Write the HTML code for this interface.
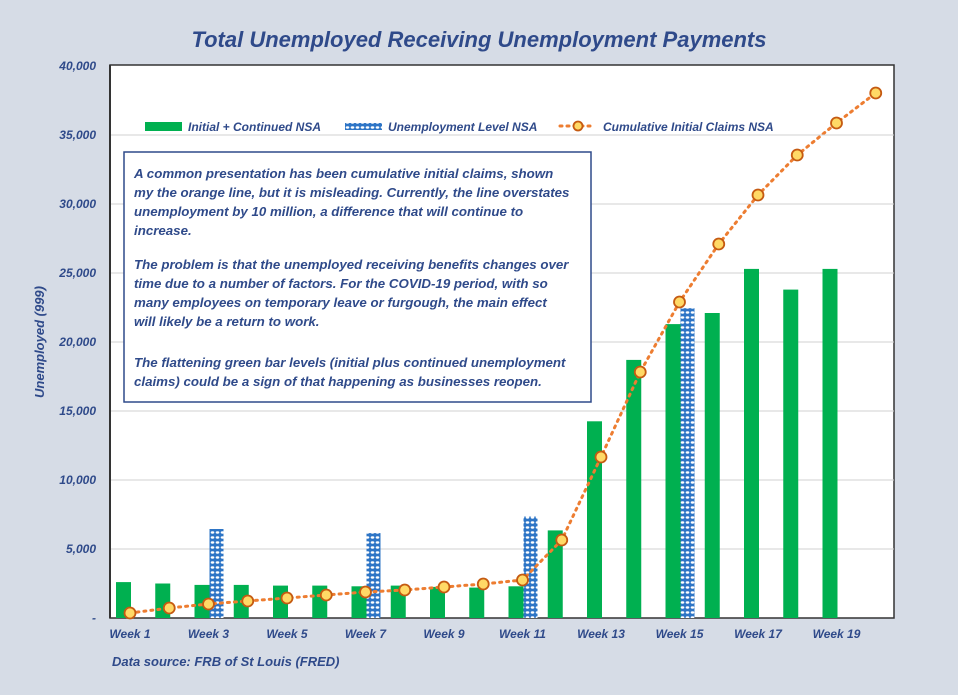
<!DOCTYPE html>
<html><head><meta charset="utf-8"><style>
body{margin:0;background:#d6dce6;}
svg{display:block;font-family:"Liberation Sans",sans-serif;}
.t{font-style:italic;font-weight:bold;fill:#2f4a8a;}
</style></head><body>
<svg width="958" height="695" viewBox="0 0 958 695">
<defs>
<pattern id="dp" width="5" height="5" patternUnits="userSpaceOnUse">
<rect width="5" height="5" fill="#2e75c6"/>
<ellipse cx="2.5" cy="2.5" rx="1.8" ry="1.2" fill="#fff"/>
</pattern>
</defs>
<rect width="958" height="695" fill="#d6dce6"/>
<text x="479" y="47" text-anchor="middle" class="t" font-size="22" fill="#2f4a8a">Total Unemployed Receiving Unemployment Payments</text>
<rect x="110" y="65" width="784" height="553" fill="#fff" stroke="#333" stroke-width="1.5"/>
<g stroke="#d0d0d0" stroke-width="1">
<line x1="110" x2="894" y1="135" y2="135"/><line x1="110" x2="894" y1="204" y2="204"/>
<line x1="110" x2="894" y1="273" y2="273"/><line x1="110" x2="894" y1="342" y2="342"/>
<line x1="110" x2="894" y1="411" y2="411"/><line x1="110" x2="894" y1="480" y2="480"/>
<line x1="110" x2="894" y1="549" y2="549"/>
</g>
<line x1="110" y1="65" x2="110" y2="618" stroke="#333" stroke-width="2"/>
<g class="t" font-size="12" text-anchor="end">
<text x="96" y="70">40,000</text><text x="96" y="139">35,000</text><text x="96" y="208">30,000</text>
<text x="96" y="277">25,000</text><text x="96" y="346">20,000</text><text x="96" y="415">15,000</text>
<text x="96" y="484">10,000</text><text x="96" y="553">5,000</text><text x="96" y="622">-</text>
</g>
<text class="t" font-size="13" transform="translate(44,342) rotate(-90)" text-anchor="middle">Unemployed (999)</text>
<g fill="#00b050">
<rect x="116" y="582.1" width="15" height="35.9"/><rect x="155.25" y="583.5" width="15" height="34.5"/>
<rect x="194.5" y="584.9" width="15" height="33.1"/><rect x="233.75" y="584.9" width="15" height="33.1"/>
<rect x="273" y="585.6" width="15" height="32.4"/><rect x="312.25" y="585.6" width="15" height="32.4"/>
<rect x="351.5" y="586.3" width="15" height="31.7"/><rect x="390.75" y="585.6" width="15" height="32.4"/>
<rect x="430" y="586.9" width="15" height="31.1"/><rect x="469.25" y="587.6" width="15" height="30.4"/>
<rect x="508.5" y="586.3" width="15" height="31.7"/><rect x="547.75" y="530.4" width="15" height="87.6"/>
<rect x="587" y="421.3" width="15" height="196.7"/><rect x="626.25" y="359.9" width="15" height="258.1"/>
<rect x="665.5" y="324.1" width="15" height="293.9"/><rect x="704.75" y="313" width="15" height="305"/>
<rect x="744" y="268.9" width="15" height="349.1"/><rect x="783.25" y="289.6" width="15" height="328.4"/>
<rect x="822.5" y="268.9" width="15" height="349.1"/>
</g>
<g fill="url(#dp)">
<rect x="209.5" y="529" width="14" height="89"/><rect x="366.5" y="533.1" width="14" height="84.9"/>
<rect x="523.5" y="516.6" width="14" height="101.4"/><rect x="680.5" y="308.2" width="14" height="309.8"/>
</g>
<polyline fill="none" stroke="#ed7d31" stroke-width="3" stroke-dasharray="2 5" stroke-linecap="round" points="130,613 169.25,608 208.5,604 247.75,601 287,598 326.25,595 365.5,592 404.75,590 444,587 483.25,584 522.5,580 561.75,540 601,457 640.25,372 679.5,302 718.75,244 758,195 797.25,155 836.5,123 875.75,93"/>
<g fill="#ffd966" stroke="#c55a11" stroke-width="1.8">
<circle cx="130" cy="613" r="5.5"/><circle cx="169.25" cy="608" r="5.5"/><circle cx="208.5" cy="604" r="5.5"/>
<circle cx="247.75" cy="601" r="5.5"/><circle cx="287" cy="598" r="5.5"/><circle cx="326.25" cy="595" r="5.5"/>
<circle cx="365.5" cy="592" r="5.5"/><circle cx="404.75" cy="590" r="5.5"/><circle cx="444" cy="587" r="5.5"/>
<circle cx="483.25" cy="584" r="5.5"/><circle cx="522.5" cy="580" r="5.5"/><circle cx="561.75" cy="540" r="5.5"/>
<circle cx="601" cy="457" r="5.5"/><circle cx="640.25" cy="372" r="5.5"/><circle cx="679.5" cy="302" r="5.5"/>
<circle cx="718.75" cy="244" r="5.5"/><circle cx="758" cy="195" r="5.5"/><circle cx="797.25" cy="155" r="5.5"/>
<circle cx="836.5" cy="123" r="5.5"/><circle cx="875.75" cy="93" r="5.5"/>
</g>
<g class="t" font-size="12" text-anchor="middle">
<text x="130" y="638">Week 1</text><text x="208.5" y="638">Week 3</text><text x="287" y="638">Week 5</text>
<text x="365.5" y="638">Week 7</text><text x="444" y="638">Week 9</text><text x="522.5" y="638">Week 11</text>
<text x="601" y="638">Week 13</text><text x="679.5" y="638">Week 15</text><text x="758" y="638">Week 17</text>
<text x="836.5" y="638">Week 19</text>
</g>
<text x="112" y="666" class="t" font-size="13">Data source: FRB of St Louis (FRED)</text>
<line x1="111" x2="893" y1="135" y2="135" stroke="#d0d0d0"/>
<rect x="145" y="122" width="37" height="9" fill="#00b050"/>
<text x="188" y="131" class="t" font-size="12">Initial + Continued NSA</text>
<rect x="345" y="123" width="37" height="7" fill="url(#dp)"/>
<text x="388" y="131" class="t" font-size="12">Unemployment Level NSA</text>
<line x1="560" x2="592" y1="126" y2="126" stroke="#ed7d31" stroke-width="3" stroke-dasharray="2 5" stroke-linecap="round"/>
<circle cx="578" cy="126" r="4.5" fill="#ffd966" stroke="#c55a11" stroke-width="1.8"/>
<text x="603" y="131" class="t" font-size="12">Cumulative Initial Claims NSA</text>
<rect x="124" y="152" width="467" height="250" fill="#fff" stroke="#2f4a8a" stroke-width="1.5"/>
<g class="t" font-size="13.3">
<text x="134" y="178">A common presentation has been cumulative initial claims, shown</text>
<text x="134" y="197">my the orange line, but it is misleading. Currently, the line overstates</text>
<text x="134" y="216">unemployment by 10 million, a difference that will continue to</text>
<text x="134" y="235">increase.</text>
<text x="134" y="269">The problem is that the unemployed receiving benefits changes over</text>
<text x="134" y="288">time due to a number of factors. For the COVID-19 period, with so</text>
<text x="134" y="307">many employees on temporary leave or furgough, the main effect</text>
<text x="134" y="326">will likely be a return to work.</text>
<text x="134" y="367">The flattening green bar levels (initial plus continued unemployment</text>
<text x="134" y="386">claims) could be a sign of that happening as businesses reopen.</text>
</g>
</svg>
</body></html>
